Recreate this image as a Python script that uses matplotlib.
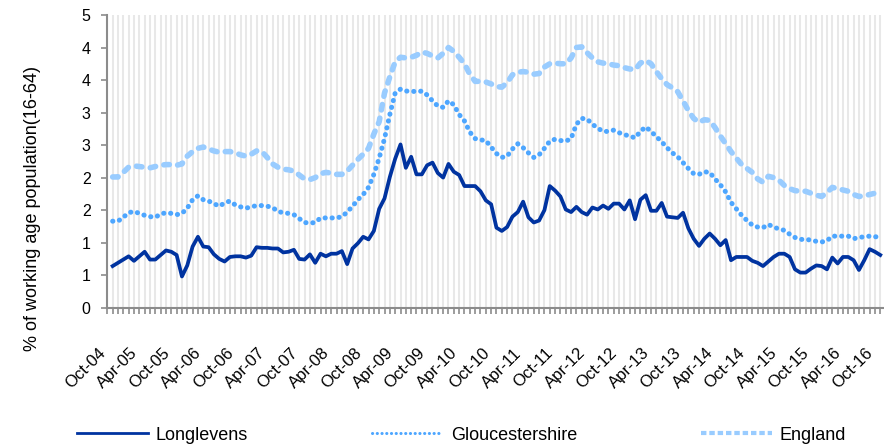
import matplotlib.pyplot as plt
import matplotlib.transforms as mtransforms
import numpy as np
from matplotlib.lines import Line2D
from matplotlib.ticker import FuncFormatter, MultipleLocator

plt.rcParams['font.family'] = ['Liberation Sans', 'DejaVu Sans']

# monthly rates, Oct-04 .. Oct-16 (% of working age population)
longlevens = [
    0.64, 0.69, 0.74, 0.79, 0.72, 0.79, 0.86, 0.74, 0.74, 0.81, 0.88, 0.86,
    0.81, 0.48, 0.65, 0.94, 1.09, 0.94, 0.93, 0.82, 0.75, 0.71, 0.78, 0.79,
    0.79, 0.77, 0.80, 0.93, 0.92, 0.92, 0.91, 0.91, 0.85, 0.86, 0.89, 0.75,
    0.74, 0.82, 0.69, 0.83, 0.79, 0.83, 0.83, 0.87, 0.67, 0.91, 0.99, 1.09,
    1.05, 1.18, 1.52, 1.68, 2.01, 2.29, 2.51, 2.15, 2.32, 2.05, 2.05, 2.19,
    2.23, 2.07, 2.00, 2.21, 2.09, 2.04, 1.87, 1.87, 1.87, 1.79, 1.65, 1.59,
    1.23, 1.18, 1.24, 1.40, 1.47, 1.63, 1.39, 1.31, 1.34, 1.50, 1.87, 1.80,
    1.71, 1.51, 1.47, 1.55, 1.47, 1.43, 1.54, 1.51, 1.57, 1.52, 1.60, 1.60,
    1.51, 1.65, 1.36, 1.66, 1.73, 1.49, 1.49, 1.61, 1.40, 1.39, 1.38, 1.46,
    1.22, 1.06, 0.95, 1.06, 1.14, 1.06, 0.96, 1.04, 0.73, 0.78, 0.78, 0.78,
    0.72, 0.69, 0.64, 0.71, 0.78, 0.83, 0.83, 0.78, 0.59, 0.54, 0.54, 0.60,
    0.65, 0.64, 0.59, 0.77, 0.68, 0.78, 0.78, 0.73, 0.58, 0.73, 0.90, 0.86,
    0.81,
]
gloucestershire = [
    1.33, 1.33, 1.39, 1.46, 1.48, 1.45, 1.42, 1.40, 1.39, 1.44, 1.46, 1.45,
    1.43, 1.45, 1.53, 1.66, 1.72, 1.66, 1.64, 1.60, 1.56, 1.61, 1.64, 1.58,
    1.55, 1.53, 1.55, 1.57, 1.57, 1.56, 1.54, 1.48, 1.46, 1.45, 1.43, 1.37,
    1.31, 1.30, 1.31, 1.38, 1.38, 1.38, 1.38, 1.40, 1.47, 1.56, 1.66, 1.74,
    1.85, 2.05, 2.30, 2.60, 2.97, 3.30, 3.36, 3.33, 3.33, 3.32, 3.33, 3.27,
    3.18, 3.10, 3.08, 3.18, 3.12, 2.97, 2.87, 2.70, 2.60, 2.58, 2.57, 2.47,
    2.37, 2.31, 2.33, 2.44, 2.52, 2.46, 2.38, 2.31, 2.35, 2.45, 2.56, 2.59,
    2.57, 2.56, 2.60, 2.82, 2.91, 2.90, 2.82, 2.76, 2.71, 2.71, 2.73, 2.69,
    2.66, 2.64, 2.61, 2.71, 2.78, 2.71, 2.63, 2.55, 2.46, 2.38, 2.32, 2.23,
    2.14, 2.06, 2.05, 2.09, 2.08, 1.98, 1.89, 1.78, 1.62, 1.52, 1.42, 1.34,
    1.27, 1.24, 1.23, 1.28, 1.24, 1.21, 1.19, 1.13, 1.08, 1.05, 1.05, 1.04,
    1.02, 1.01, 1.03, 1.10, 1.10, 1.10, 1.10, 1.06, 1.08, 1.09, 1.10, 1.09,
    1.09,
]
england = [
    2.01, 2.01, 2.08, 2.16, 2.18, 2.17, 2.16, 2.15, 2.17, 2.19, 2.20, 2.20,
    2.19, 2.21, 2.33, 2.40, 2.45, 2.47, 2.44, 2.41, 2.39, 2.40, 2.40, 2.38,
    2.35, 2.33, 2.36, 2.41, 2.40, 2.31, 2.21, 2.16, 2.13, 2.12, 2.10, 2.04,
    1.98, 1.97, 2.00, 2.06, 2.08, 2.07, 2.05, 2.05, 2.10, 2.19, 2.28, 2.36,
    2.45, 2.67, 2.86, 3.30, 3.55, 3.78, 3.85, 3.84, 3.85, 3.88, 3.93, 3.91,
    3.87, 3.84, 3.91, 4.00, 3.94, 3.85, 3.75, 3.59, 3.48, 3.48, 3.47, 3.44,
    3.40, 3.39, 3.46, 3.58, 3.62, 3.63, 3.62, 3.59, 3.60, 3.70, 3.75, 3.76,
    3.75, 3.75, 3.84, 4.00, 4.01, 3.92, 3.84, 3.78, 3.76, 3.75, 3.73, 3.72,
    3.69, 3.67, 3.66, 3.76, 3.80, 3.75, 3.63, 3.52, 3.43, 3.38, 3.32, 3.18,
    3.03, 2.91, 2.85, 2.89, 2.88, 2.77, 2.64, 2.52, 2.40, 2.30, 2.20, 2.14,
    2.08, 1.98, 1.93, 2.02, 2.00, 1.96, 1.88, 1.83, 1.80, 1.79, 1.79, 1.76,
    1.73, 1.71, 1.77, 1.85, 1.83, 1.81, 1.79, 1.74, 1.71, 1.72, 1.74, 1.76,
    1.79,
]
tick_labels = [
    "Oct-04", "Apr-05", "Oct-05", "Apr-06", "Oct-06", "Apr-07", "Oct-07",
    "Apr-08", "Oct-08", "Apr-09", "Oct-09", "Apr-10", "Oct-10", "Apr-11",
    "Oct-11", "Apr-12", "Oct-12", "Apr-13", "Oct-13", "Apr-14", "Oct-14",
    "Apr-15", "Oct-15", "Apr-16", "Oct-16",
]
series_names = ["Longlevens", "Gloucestershire", "England"]

c_long = '#0033a0'
c_glos = '#4da6ff'
c_eng = '#99ccff'
grey = '#8c8c8c'

x = np.arange(len(longlevens))

fig = plt.figure(figsize=(8.84, 4.46), dpi=100)
ax = fig.add_axes([0.1214, 0.3101, 0.8786, 0.6563])

ax.plot(x, england, color=c_eng, lw=4.0, dashes=(1.0, 1.5),
        dash_capstyle='round', dash_joinstyle='round')
ax.plot(x, gloucestershire, color=c_glos, lw=3.6, dashes=(0.05, 1.35),
        dash_capstyle='round')
ax.plot(x, longlevens, color=c_long, lw=2.7, solid_joinstyle='round')

ax.set_xlim(-1, 144.7)
ax.set_ylim(0, 4.5)

# x axis: a tick per month, a label every 6 months
ax.set_xticks(x[::6])
ax.set_xticklabels(tick_labels, rotation=45, ha='right', va='center',
                   rotation_mode='anchor', fontsize=12)
ax.xaxis.set_minor_locator(MultipleLocator(1))
ax.tick_params(axis='x', which='both', length=4, width=1.2, color=grey,
               direction='out')
ax.tick_params(axis='x', which='major', pad=27)
shift = mtransforms.ScaledTranslation(-0.096, 0, fig.dpi_scale_trans)
for lab in ax.get_xticklabels():
    lab.set_transform(lab.get_transform() + shift)

ax.grid(axis='x', which='both', color='#e8e8e8', lw=1.5)
ax.set_axisbelow(True)

# y axis: 0.5 steps shown rounded like excel does
ax.yaxis.set_major_locator(MultipleLocator(0.5))
ax.yaxis.set_major_formatter(FuncFormatter(lambda v, _: str(int(np.floor(v + 0.5 + 1e-9)))))
ax.tick_params(axis='y', length=4, width=1.2, color=grey, direction='out',
               labelsize=11.5, pad=8)
ax.set_ylabel('% of working age population(16-64)', fontsize=13)
ax.yaxis.set_label_coords(-0.0854, 0.338)

for s in ['top', 'right']:
    ax.spines[s].set_visible(False)
for s in ['left', 'bottom']:
    ax.spines[s].set_color(grey)
    ax.spines[s].set_linewidth(1.5)

handles = [
    Line2D([], [], color=c_long, lw=2),
    Line2D([], [], color=c_glos, lw=2.2, dashes=(0.05, 1.5), dash_capstyle='round'),
    Line2D([], [], color=c_eng, lw=3, dashes=(1.3, 0.7)),
]
fig.legend(handles, series_names, loc='center left',
           bbox_to_anchor=(76.7 / 884, 11 / 446), ncol=3, frameon=False,
           fontsize=13, handlelength=3.96, handletextpad=0.42,
           columnspacing=6.85, borderpad=0, borderaxespad=0)

fig.savefig('out.png', dpi=100)
